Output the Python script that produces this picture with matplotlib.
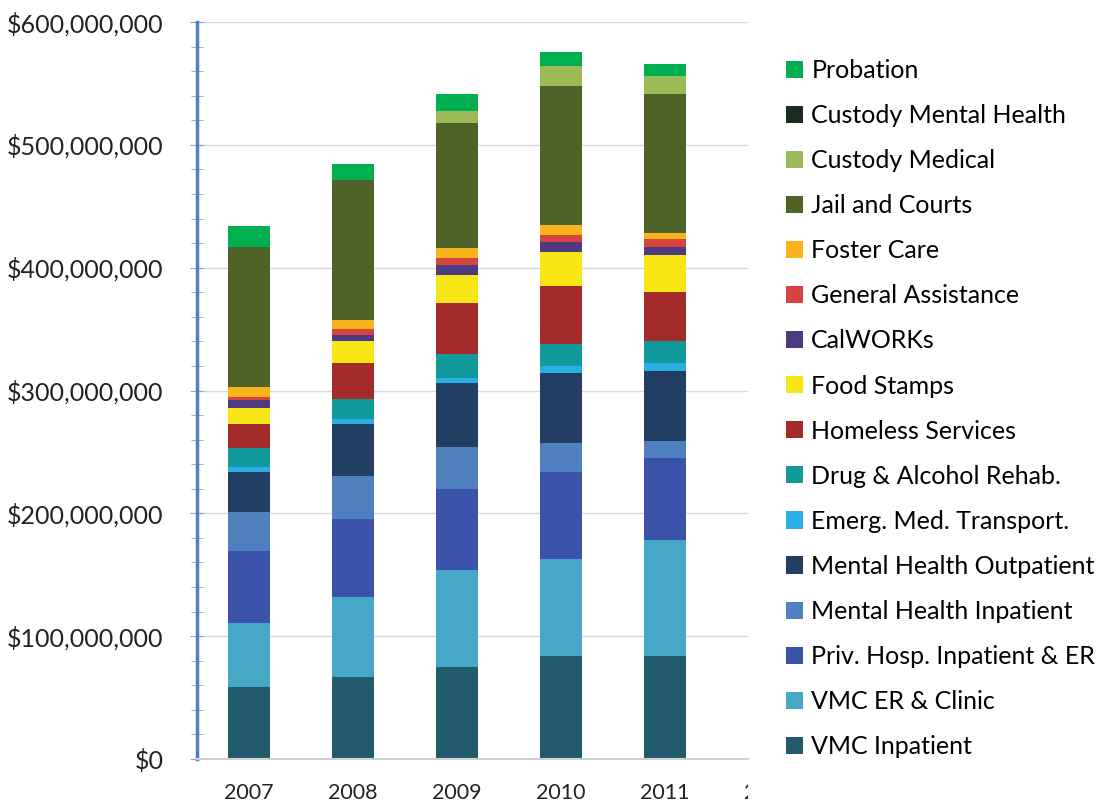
import numpy as np
import matplotlib
matplotlib.use("Agg")
import matplotlib.pyplot as plt
from matplotlib.ticker import FuncFormatter, MultipleLocator
from matplotlib.transforms import Bbox, TransformedBbox, offset_copy

plt.rcParams['font.family'] = ['Lato', 'DejaVu Sans']

years = ['2007', '2008', '2009', '2010', '2011']

# costs in millions of dollars, bottom to top of each bar
vmc_inpatient = [59, 67, 75, 84, 84]
vmc_er_clinic = [52, 65, 79, 79, 94]
priv_hosp = [58, 63, 66, 71, 67]
mh_inpatient = [32, 35, 34, 23.5, 14]
mh_outpatient = [33, 43, 52, 56.5, 57]
emerg_transport = [4, 4, 4, 6, 6]
drug_alcohol = [15, 16, 20, 17.5, 18]
homeless = [20, 29, 41, 47.5, 40]
food_stamps = [13, 18, 23, 28, 30]
calworks = [6, 5, 8, 8, 7]
general_assist = [3, 5, 6, 6, 6]
foster_care = [8, 7, 8, 8, 5]
jail_courts = [114, 114, 102, 113, 113.5]
custody_medical = [0, 0, 9.5, 16, 14.5]
custody_mental = [0, 0, 0, 0, 0]
probation = [17, 13.5, 13.5, 11.5, 10]

series = [
    ('VMC Inpatient', vmc_inpatient, '#215b6c'),
    ('VMC ER & Clinic', vmc_er_clinic, '#46a7c6'),
    ('Priv. Hosp. Inpatient & ER', priv_hosp, '#3a52a8'),
    ('Mental Health Inpatient', mh_inpatient, '#4f80c0'),
    ('Mental Health Outpatient', mh_outpatient, '#223f63'),
    ('Emerg. Med. Transport.', emerg_transport, '#2aaee6'),
    ('Drug & Alcohol Rehab.', drug_alcohol, '#12999b'),
    ('Homeless Services', homeless, '#a32b2b'),
    ('Food Stamps', food_stamps, '#f7e514'),
    ('CalWORKs', calworks, '#4e3a80'),
    ('General Assistance', general_assist, '#d6443f'),
    ('Foster Care', foster_care, '#f9b31b'),
    ('Jail and Courts', jail_courts, '#4f6228'),
    ('Custody Medical', custody_medical, '#9bbb59'),
    ('Custody Mental Health', custody_mental, '#1c2b20'),
    ('Probation', probation, '#00b050'),
]

fig = plt.figure(figsize=(10.99, 8.07), dpi=100)
ax = fig.add_axes([197 / 1099, 48 / 807, 551 / 1099, 737 / 807])

x = np.arange(len(years))
bottom = np.zeros(len(years))
handles = []
for name, vals, col in series:
    v = np.array(vals) * 1e6
    b = ax.bar(x, v, 0.4, bottom=bottom, color=col, label=name, linewidth=0)
    handles.append(b)
    bottom += v

ax.set_ylim(0, 600e6)
ax.set_xlim(-0.5, 4.8)
ax.yaxis.set_major_locator(MultipleLocator(100e6))
ax.yaxis.set_minor_locator(MultipleLocator(20e6))
ax.yaxis.set_major_formatter(FuncFormatter(lambda v, p: '${:,.0f}'.format(v)))
ax.set_xticks(x)
ax.set_xticklabels(years)
ax.grid(axis='y', color='#d9d9d9', linewidth=1)
ax.set_axisbelow(True)

for s in ['top', 'right']:
    ax.spines[s].set_visible(False)
ax.spines['left'].set_color('#4f81bd')
ax.spines['left'].set_linewidth(2.5)
ax.spines['bottom'].set_color('#d0d0d0')
ax.spines['bottom'].set_linewidth(1.5)

xpad = 17
ax.tick_params(axis='y', which='both', direction='inout', color='#8aa6c8',
               labelsize=18, pad=19, labelcolor='#222222')
ax.tick_params(axis='y', which='major', length=10)
ax.tick_params(axis='y', which='minor', length=8)
ax.tick_params(axis='x', length=0, labelsize=15.5, pad=xpad, labelcolor='#222222')

# the next year's label is cut off at the edge of the plot
tr = offset_copy(ax.get_xaxis_transform(), fig=fig, y=-xpad, units='points')
t = ax.text(5, 0, '2012', transform=tr, ha='center', va='top',
            fontsize=15.5, color='#222222')
t.set_clip_box(TransformedBbox(Bbox([[0, 0], [748 / 1099, 1]]), fig.transFigure))
t.set_clip_on(True)

fig.legend(handles[::-1], [s[0] for s in series][::-1], loc='upper left',
           bbox_to_anchor=(776 / 1099, 1 - 49 / 807), frameon=False,
           fontsize=18, handlelength=0.68, handleheight=0.68,
           handletextpad=0.33, labelspacing=0.883, borderaxespad=0)

fig.savefig('out.png', dpi=100, facecolor='white')
